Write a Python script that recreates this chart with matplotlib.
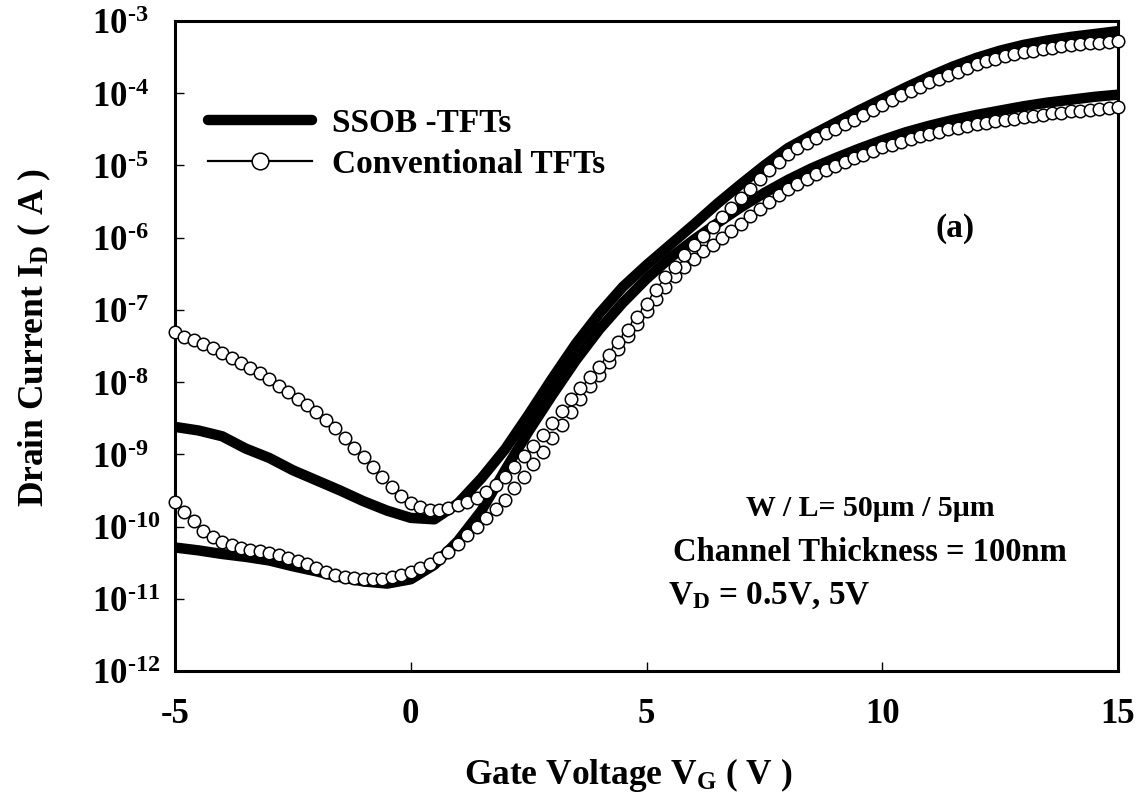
import matplotlib
matplotlib.use("Agg")
import matplotlib.pyplot as plt
from matplotlib.lines import Line2D

plt.rcParams['font.family'] = ['Liberation Serif', 'DejaVu Serif']
plt.rcParams['font.weight'] = 'bold'
plt.rcParams['mathtext.fontset'] = 'custom'
plt.rcParams['mathtext.rm'] = 'Liberation Serif:bold'
plt.rcParams['mathtext.it'] = 'Liberation Serif:bold'
plt.rcParams['mathtext.bf'] = 'Liberation Serif:bold'
plt.rcParams['mathtext.default'] = 'rm'

# ---------------- data (log10 of drain current, A) ----------------
# SSOB-TFTs (thick line), 0.5 V steps
vg_line = [-5.0, -4.5, -4.0, -3.5, -3.0, -2.5, -2.0, -1.5, -1.0, -0.5,
           0.0, 0.5, 1.0, 1.5, 2.0, 2.5, 3.0, 3.5, 4.0, 4.5,
           5.0, 5.5, 6.0, 6.5, 7.0, 7.5, 8.0, 8.5, 9.0, 9.5,
           10.0, 10.5, 11.0, 11.5, 12.0, 12.5, 13.0, 13.5, 14.0, 14.5, 15.0]
ssob_vd5_log = [-8.62, -8.67, -8.75, -8.92, -9.05, -9.22, -9.36, -9.50, -9.65, -9.78,
                -9.88, -9.90, -9.68, -9.33, -8.93, -8.45, -7.95, -7.47, -7.05, -6.68,
                -6.38, -6.10, -5.82, -5.53, -5.26, -5.00, -4.76, -4.58, -4.41, -4.24,
                -4.08, -3.92, -3.77, -3.63, -3.51, -3.41, -3.33, -3.27, -3.22, -3.18, -3.14]
ssob_vd05_log = [-10.29, -10.33, -10.38, -10.42, -10.47, -10.55, -10.62, -10.70, -10.76, -10.79,
                 -10.73, -10.53, -10.20, -9.78, -9.22, -8.68, -8.18, -7.70, -7.27, -6.90,
                 -6.57, -6.28, -6.03, -5.80, -5.58, -5.38, -5.20, -5.04, -4.90, -4.77,
                 -4.65, -4.54, -4.45, -4.37, -4.30, -4.24, -4.18, -4.13, -4.09, -4.05, -4.02]

# Conventional TFTs (open circles), 0.2 V steps
vg_conv = [-5.0, -4.8, -4.6, -4.4, -4.2, -4.0, -3.8, -3.6, -3.4, -3.2,
           -3.0, -2.8, -2.6, -2.4, -2.2, -2.0, -1.8, -1.6, -1.4, -1.2,
           -1.0, -0.8, -0.6, -0.4, -0.2, 0.0, 0.2, 0.4, 0.6, 0.8,
           1.0, 1.2, 1.4, 1.6, 1.8, 2.0, 2.2, 2.4, 2.6, 2.8,
           3.0, 3.2, 3.4, 3.6, 3.8, 4.0, 4.2, 4.4, 4.6, 4.8,
           5.0, 5.2, 5.4, 5.6, 5.8, 6.0, 6.2, 6.4, 6.6, 6.8,
           7.0, 7.2, 7.4, 7.6, 7.8, 8.0, 8.2, 8.4, 8.6, 8.8,
           9.0, 9.2, 9.4, 9.6, 9.8, 10.0, 10.2, 10.4, 10.6, 10.8,
           11.0, 11.2, 11.4, 11.6, 11.8, 12.0, 12.2, 12.4, 12.6, 12.8,
           13.0, 13.2, 13.4, 13.6, 13.8, 14.0, 14.2, 14.4, 14.6, 14.8, 15.0]
conv_vd5_log = [-7.31, -7.37, -7.42, -7.47, -7.53, -7.59, -7.67, -7.74, -7.81, -7.88,
                -7.96, -8.05, -8.14, -8.23, -8.32, -8.41, -8.52, -8.64, -8.77, -8.91,
                -9.04, -9.18, -9.32, -9.45, -9.57, -9.67, -9.73, -9.77, -9.77, -9.74,
                -9.70, -9.66, -9.60, -9.52, -9.43, -9.31, -9.17, -9.03, -8.88, -8.73,
                -8.57, -8.40, -8.24, -8.08, -7.93, -7.79, -7.62, -7.45, -7.28, -7.10,
                -6.92, -6.73, -6.55, -6.40, -6.24, -6.10, -5.97, -5.85, -5.72, -5.59,
                -5.45, -5.32, -5.19, -5.06, -4.95, -4.84, -4.76, -4.69, -4.62, -4.55,
                -4.49, -4.43, -4.37, -4.30, -4.23, -4.16, -4.10, -4.03, -3.97, -3.91,
                -3.85, -3.80, -3.75, -3.70, -3.65, -3.60, -3.56, -3.52, -3.49, -3.46,
                -3.43, -3.41, -3.39, -3.37, -3.35, -3.33, -3.32, -3.31, -3.30, -3.29, -3.28]
conv_vd05_log = [-9.66, -9.80, -9.93, -10.06, -10.15, -10.21, -10.26, -10.30, -10.32, -10.34,
                 -10.37, -10.40, -10.43, -10.47, -10.52, -10.57, -10.63, -10.67, -10.70, -10.71,
                 -10.72, -10.73, -10.72, -10.70, -10.67, -10.63, -10.58, -10.52, -10.44, -10.35,
                 -10.24, -10.12, -10.00, -9.88, -9.76, -9.63, -9.47, -9.31, -9.14, -8.97,
                 -8.78, -8.59, -8.41, -8.23, -8.06, -7.90, -7.72, -7.54, -7.36, -7.19,
                 -7.02, -6.85, -6.68, -6.53, -6.40, -6.29, -6.19, -6.10, -6.01, -5.91,
                 -5.81, -5.70, -5.60, -5.50, -5.41, -5.33, -5.26, -5.19, -5.12, -5.06,
                 -5.01, -4.95, -4.90, -4.85, -4.80, -4.75, -4.71, -4.67, -4.63, -4.59,
                 -4.56, -4.53, -4.50, -4.48, -4.45, -4.43, -4.41, -4.39, -4.37, -4.35,
                 -4.33, -4.31, -4.30, -4.28, -4.27, -4.25, -4.24, -4.23, -4.22, -4.20, -4.19]

x_ticks = [-5, 0, 5, 10, 15]
y_exps = [-12, -11, -10, -9, -8, -7, -6, -5, -4, -3]
legend_labels = ['SSOB -TFTs', 'Conventional TFTs']

# ---------------- figure ----------------
fig = plt.figure(figsize=(11.44, 8.03), dpi=100)
ax = fig.add_axes([175/1144, 131/803, 943/1144, 650/803])

def to_amp(lst):
    return [10.0 ** v for v in lst]

ax.plot(vg_line, to_amp(ssob_vd05_log), color='black', lw=7.5,
        solid_capstyle='round', solid_joinstyle='round', zorder=3)
ax.plot(vg_line, to_amp(ssob_vd5_log), color='black', lw=7.5,
        solid_capstyle='round', solid_joinstyle='round', zorder=3)
ax.plot(vg_conv, to_amp(conv_vd05_log), ls='none', marker='o', ms=9.0,
        mfc='white', mec='black', mew=1.1, zorder=4, clip_on=False)
ax.plot(vg_conv, to_amp(conv_vd5_log), ls='none', marker='o', ms=9.0,
        mfc='white', mec='black', mew=1.1, zorder=4, clip_on=False)

ax.set_yscale('log')
ax.set_xlim(-5, 15)
ax.set_ylim(1e-12, 1e-3)
ax.set_xticks(x_ticks)
ax.set_xticklabels([str(t) for t in x_ticks])
ax.set_yticks([10.0 ** e for e in y_exps])
ax.set_yticklabels([r'$10^{\text{%d}}$' % e for e in y_exps])
ax.minorticks_off()
ax.tick_params(axis='both', direction='in', length=6.5, width=1.0,
               labelsize=25, top=False, right=False)
ax.tick_params(axis='x', pad=19)
ax.tick_params(axis='y', pad=60)
for lab in ax.get_xticklabels() + ax.get_yticklabels():
    lab.set_fontweight('bold')
for lab in ax.get_yticklabels():
    lab.set_horizontalalignment('left')
for sp in ax.spines.values():
    sp.set_linewidth(2.2)

# axis labels
fig.text(34/1144, 1 - 338/803, r'Drain Current I$_{\mathregular{D}}$ ( A )',
         rotation=90, ha='center', va='center', fontsize=25.5, fontweight='bold')
fig.text(628/1144, 1 - 775/803, r'Gate Voltage V$_{\mathregular{G}}$ ( V )',
         ha='center', va='center', fontsize=25.5, fontweight='bold')

# legend
handles = [Line2D([0], [0], color='black', lw=7.5, solid_capstyle='round'),
           Line2D([0], [0], color='black', lw=1.6, marker='o', ms=12,
                  mfc='white', mec='black', mew=1.1)]
leg = ax.legend(handles, legend_labels, loc='upper left',
                bbox_to_anchor=(20/943, (672-95)/650), frameon=False,
                fontsize=24, handlelength=3.1, handletextpad=0.6,
                labelspacing=0.3, borderaxespad=0.0)
for t in leg.get_texts():
    t.set_fontweight('bold')

# annotations
fig.text(955/1144, 1 - 228/803, '(a)', ha='center', va='center',
         fontsize=24, fontweight='bold')
fig.text(870/1144, 1 - 509/803, 'W / L= 50\u03bcm / 5\u03bcm', ha='center',
         va='center', fontsize=21.5, fontweight='bold')
fig.text(870/1144, 1 - 553/803, 'Channel Thickness = 100nm', ha='center',
         va='center', fontsize=23.5, fontweight='bold')
fig.text(668/1144, 1 - 596/803, r'V$_{\mathregular{D}}$ = 0.5V, 5V', ha='left',
         va='center', fontsize=24, fontweight='bold')

fig.savefig('out.png', dpi=100)
